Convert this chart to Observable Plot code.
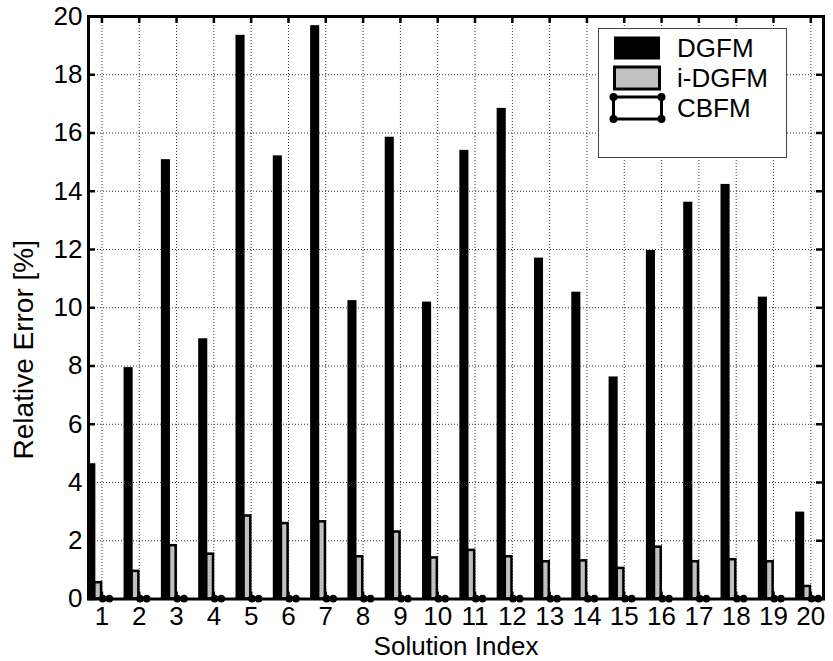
<!DOCTYPE html>
<html>
<head>
<meta charset="utf-8">
<script src="https://cdn.jsdelivr.net/npm/d3@7"></script>
<script src="https://cdn.jsdelivr.net/npm/@observablehq/plot@0.6"></script>
<style>
  html, body { margin: 0; padding: 0; background: #fff; }
  #wrap { position: relative; width: 833px; height: 661px; font-family: "Liberation Sans", Arial, sans-serif; }
  #legend { position: absolute; left: 598px; top: 28px; width: 189px; height: 130px; background: #fff; border: 1px solid #444; box-sizing: border-box; }
</style>
</head>
<body>
<div id="wrap"></div>
<script>
// ---- data ----
const categories = [1, 2, 3, 4, 5, 6, 7, 8, 9, 10, 11, 12, 13, 14, 15, 16, 17, 18, 19, 20];
const dgfm  = [4.61, 7.91, 15.05, 8.90, 19.32, 15.18, 19.65, 10.21, 15.82, 10.16, 15.37, 16.81, 11.67, 10.50, 7.59, 11.93, 13.59, 14.20, 10.33, 2.95];
const idgfm = [0.56, 0.95, 1.83, 1.54, 2.85, 2.59, 2.65, 1.45, 2.30, 1.41, 1.67, 1.45, 1.28, 1.31, 1.05, 1.78, 1.28, 1.35, 1.28, 0.43];
const cbfm  = [0.02, 0.02, 0.02, 0.02, 0.02, 0.02, 0.02, 0.02, 0.02, 0.02, 0.02, 0.02, 0.02, 0.02, 0.02, 0.02, 0.02, 0.02, 0.02, 0.02];
const seriesNames = ["DGFM", "i-DGFM", "CBFM"];
const xTicks = categories;
const yTicks = [0, 2, 4, 6, 8, 10, 12, 14, 16, 18, 20];
const xLabel = "Solution Index";
const yLabel = "Relative Error [%]";

// ---- layout / style ----
const W = 833, H = 661;
const mL = 88, mR = 10, mT = 16, mB = 62.5;
const frameW = W - mL - mR, frameH = H - mT - mB;
const tickLen = 7;
const font = "Liberation Sans, Arial, Helvetica, sans-serif";
// bar offsets relative to group index (style, not data)
const off = { DGFM: [-0.38, -0.19], IDGFM: [-0.19, -0.01], CBFM: [0.02, 0.20] };

const rowsD = categories.map((c, i) => ({ idx: c, v: dgfm[i] }));
const rowsI = categories.map((c, i) => ({ idx: c, v: idgfm[i] }));
const rowsC = categories.map((c, i) => ({ idx: c, v: cbfm[i] }));
const cornersC = rowsC.flatMap(d => [
  { x: d.idx + off.CBFM[0], y: 0 }, { x: d.idx + off.CBFM[1], y: 0 },
  { x: d.idx + off.CBFM[0], y: d.v }, { x: d.idx + off.CBFM[1], y: d.v }
]);

const grid = { stroke: "#000", strokeOpacity: 0.8, strokeWidth: 1, strokeDasharray: "1,2" };

const chart = Plot.plot({
  width: W, height: H,
  marginLeft: mL, marginRight: mR, marginTop: mT, marginBottom: mB,
  style: { fontFamily: font, fontSize: "26px", background: "#fff", color: "#000" },
  x: { type: "linear", domain: [0.64, 20.34] },
  y: { type: "linear", domain: [0, 20] },
  marks: [
    Plot.gridX(xTicks, grid),
    Plot.gridY(yTicks, grid),
    Plot.rect(rowsD, { x1: d => d.idx + off.DGFM[0], x2: d => d.idx + off.DGFM[1], y1: 0, y2: "v", fill: "#000", stroke: "#000", strokeWidth: 2, clip: true }),
    Plot.rect(rowsI, { x1: d => d.idx + off.IDGFM[0], x2: d => d.idx + off.IDGFM[1], y1: 0, y2: "v", fill: "#c0c0c0", stroke: "#000", strokeWidth: 2.5, clip: true }),
    Plot.rect(rowsC, { x1: d => d.idx + off.CBFM[0], x2: d => d.idx + off.CBFM[1], y1: 0, y2: "v", fill: "#fff", stroke: "#000", strokeWidth: 2.5, clip: true }),
    Plot.dot(cornersC, { x: "x", y: "y", r: 3.6, fill: "#000", stroke: "none" }),
    Plot.frame({ stroke: "#000", strokeWidth: 3 }),
    // inward ticks
    Plot.tickY(yTicks, { y: d => d, insetRight: frameW - tickLen, stroke: "#000", strokeWidth: 2.5 }),
    Plot.tickY(yTicks, { y: d => d, insetLeft: frameW - tickLen, stroke: "#000", strokeWidth: 2.5 }),
    Plot.tickX(xTicks, { x: d => d, insetBottom: frameH - tickLen, stroke: "#000", strokeWidth: 2.5 }),
    Plot.tickX(xTicks, { x: d => d, insetTop: frameH - tickLen, stroke: "#000", strokeWidth: 2.5 }),
    Plot.axisX(xTicks, { tickSize: 0, tickPadding: 8, fontSize: 26, label: null, tickFormat: d => String(d) }),
    Plot.axisY(yTicks, { tickSize: 0, tickPadding: 6, fontSize: 26, label: null, tickFormat: d => String(d) }),
    Plot.text([xLabel], { frameAnchor: "bottom", text: d => d, dy: 47.5, lineAnchor: "middle", fontSize: 26 }),
    Plot.text([yLabel], { frameAnchor: "left", text: d => d, rotate: -90, dx: -64, dy: 42, textAnchor: "middle", lineAnchor: "middle", fontSize: 28 })
  ]
});

const wrap = document.getElementById("wrap");
wrap.appendChild(chart);

// ---- legend (inside the axes, upper right) ----
const legend = document.createElement("div");
legend.id = "legend";
const ns = "http://www.w3.org/2000/svg";
const lsvg = document.createElementNS(ns, "svg");
lsvg.setAttribute("width", 187);
lsvg.setAttribute("height", 128);
lsvg.style.display = "block";
function el(tag, attrs) { const e = document.createElementNS(ns, tag); for (const k in attrs) e.setAttribute(k, attrs[k]); lsvg.appendChild(e); return e; }
const rowY = [19, 49, 79];
el("rect", { x: 15, y: rowY[0] - 11.5, width: 46, height: 23, fill: "#000" });
el("rect", { x: 15.5, y: rowY[1] - 11, width: 45, height: 22, fill: "#c0c0c0", stroke: "#000", "stroke-width": 3 });
el("rect", { x: 14.5, y: rowY[2] - 11, width: 48, height: 22, fill: "#fff", stroke: "#000", "stroke-width": 3 });
[[14.5, rowY[2] - 11], [62.5, rowY[2] - 11], [14.5, rowY[2] + 11], [62.5, rowY[2] + 11]].forEach(([cx, cy]) =>
  el("circle", { cx, cy, r: 4, fill: "#000" }));
seriesNames.forEach((name, i) => {
  const t = el("text", { x: 78, y: rowY[i], "dominant-baseline": "central", "font-size": 26, "font-family": font, fill: "#000" });
  t.textContent = name;
});
legend.appendChild(lsvg);
wrap.appendChild(legend);
</script>
</body>
</html>
